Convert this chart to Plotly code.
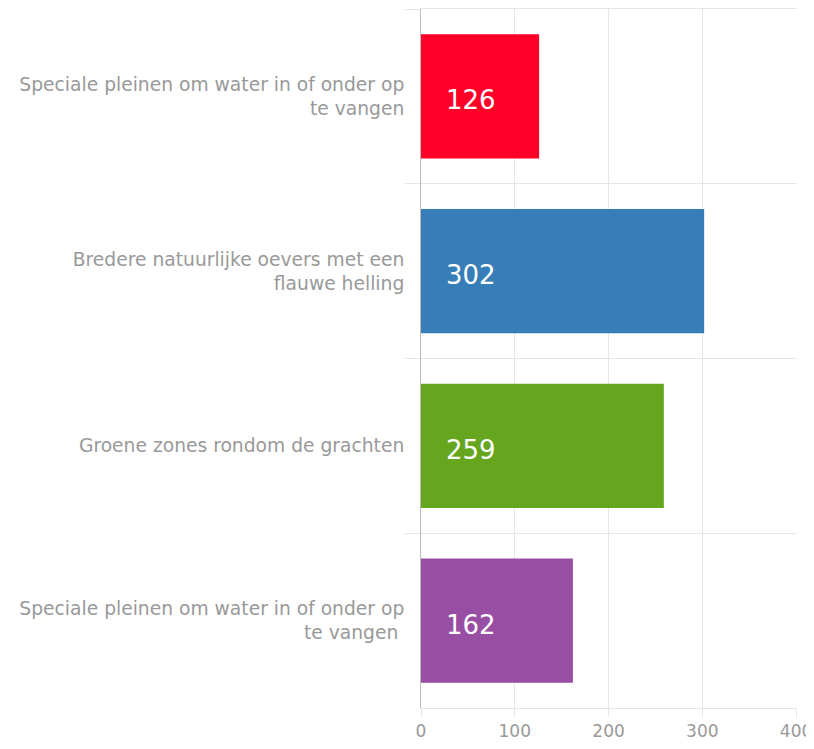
import plotly.graph_objects as go

categories = [
    'Speciale pleinen om water in of onder op<br>te vangen',
    'Bredere natuurlijke oevers met een<br>flauwe helling',
    'Groene zones rondom de grachten',
    'Speciale pleinen om water in of onder op<br>te vangen ',
]
values = [126, 302, 259, 162]
colors = ['#ff0029', '#377eb8', '#66a61e', '#984ea3']
x_ticks = [0, 100, 200, 300, 400]

fig = go.Figure()
fig.add_trace(go.Bar(x=values, y=categories, orientation='h', marker_color=colors,
                     marker_line_width=0, showlegend=False, hoverinfo='skip'))

for cat, val in zip(categories, values):
    fig.add_annotation(x=0, y=cat, xref='x', yref='y', text=str(val), showarrow=False,
                       xanchor='left', xshift=23, yshift=-4, font=dict(color='white', size=26))

# page body has an 8px margin; keep the page height within the window (no scrollbar)
fig.update_layout(
    width=806, height=733,
    margin=dict(l=413, r=17, t=1, b=33),
    plot_bgcolor='white', paper_bgcolor='white',
    font=dict(family='DejaVu Sans, Verdana, sans-serif', color='#999999'),
    bargap=0.29,
)
fig.update_xaxes(range=[0, 401], tickvals=x_ticks,
                 showgrid=True, gridcolor='#e6e6e6', gridwidth=1,
                 ticks='outside', ticklen=8, tickcolor='#e6e6e6', zeroline=False,
                 showline=True, mirror=True, linecolor='#e6e6e6', linewidth=1,
                 ticklabeloverflow='allow',
                 tickfont=dict(size=17, color='#999999'), automargin=False, fixedrange=True)
fig.update_yaxes(type='category', categoryorder='array', categoryarray=categories, autorange='reversed',
                 tickson='boundaries', showgrid=True, gridcolor='#e6e6e6', gridwidth=1,
                 ticks='outside', ticklen=15, tickcolor='#e6e6e6', ticklabelstandoff=12,
                 showline=True, linecolor='#bdbdbd', linewidth=1,
                 tickfont=dict(size=18.7, color='#999999'), automargin=False, fixedrange=True)

fig.write_html('out.html')
